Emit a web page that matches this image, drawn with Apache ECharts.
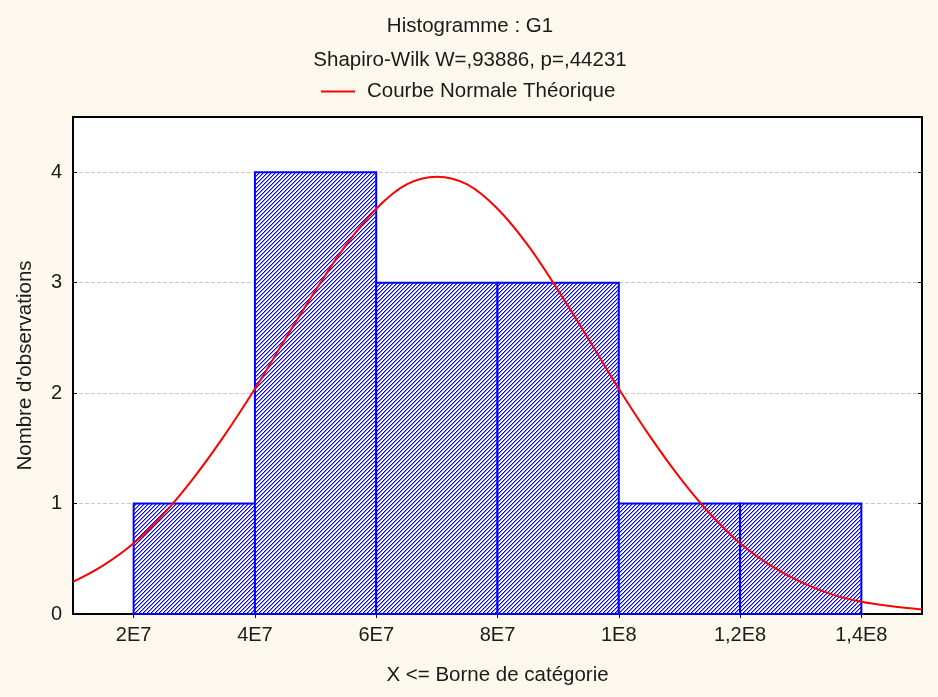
<!DOCTYPE html>
<html>
<head>
<meta charset="utf-8">
<script src="https://cdn.jsdelivr.net/npm/echarts@6/dist/echarts.min.js"></script>
<style>
  html, body { margin: 0; padding: 0; background: #fdf8ee; }
  #chart { width: 938px; height: 697px; }
</style>
</head>
<body>
<div id="chart"></div>
<script>
// classes de l'histogramme
const binStarts = [2e7, 4e7, 6e7, 8e7, 1e8, 1.2e8];
const binEnds   = [4e7, 6e7, 8e7, 1e8, 1.2e8, 1.4e8];
const counts    = [1, 4, 3, 3, 1, 1];

// courbe normale théorique
const curveX = [1e7, 1.5e7, 2e7, 2.5e7, 3e7, 3.5e7, 4e7, 4.5e7, 5e7, 5.5e7, 6e7, 6.5e7, 7e7, 7.5e7,
                8e7, 8.5e7, 9e7, 9.5e7, 1e8, 1.05e8, 1.1e8, 1.15e8, 1.2e8, 1.25e8, 1.3e8, 1.35e8, 1.4e8, 1.45e8, 1.5e8];
const curveY = [0.29, 0.44, 0.64, 0.91, 1.24, 1.62, 2.04, 2.49, 2.93, 3.34, 3.67, 3.89, 3.96, 3.89,
                3.67, 3.34, 2.93, 2.49, 2.04, 1.62, 1.24, 0.91, 0.64, 0.44, 0.29, 0.18, 0.11, 0.07, 0.04];

// graduations
const xTickValues = [2e7, 4e7, 6e7, 8e7, 1e8, 1.2e8, 1.4e8];
const xTickLabels = ['2E7', '4E7', '6E7', '8E7', '1E8', '1,2E8', '1,4E8'];
const yTickValues = [0, 1, 2, 3, 4];

// motif hachuré des barres (///), dessiné pixel par pixel
function hatch() {
    let n = 4;
    let c = document.createElement('canvas');
    c.width = n; c.height = n;
    let ctx = c.getContext('2d');
    ctx.fillStyle = '#ffffff';
    ctx.fillRect(0, 0, n, n);
    for (let i = 0; i < n; i++) {
        ctx.fillStyle = '#0000ff';
        ctx.fillRect(i, n - 1 - i, 1, 1);
        ctx.fillStyle = '#8c8cff';
        ctx.fillRect(i, (n - i) % n, 1, 1);
    }
    return c;
}

window.onload = function () {
    let chart = echarts.init(document.getElementById('chart'));
    let pattern = { image: hatch(), repeat: 'repeat' };

    let barData = [];
    for (let i = 0; i < counts.length; i++) {
        barData.push([binStarts[i], binEnds[i], counts[i]]);
    }
    let curveData = curveX.map(function (x, i) { return [x, curveY[i]]; });

    let font = 'Liberation Sans, Arial, sans-serif';
    let txt = { color: '#1a1a1a', fontFamily: font, fontSize: 20.5, fontWeight: 'normal' };

    let option = {
        backgroundColor: '#fdf8ee',
        animation: false,
        title: [
            { text: 'Histogramme : G1', left: 470, top: 16, padding: 0, textAlign: 'center', textStyle: txt },
            { text: 'Shapiro-Wilk W=,93886, p=,44231', left: 470, top: 50, padding: 0, textAlign: 'center', textStyle: txt }
        ],
        legend: {
            left: 321, top: 81, padding: 0,
            icon: 'rect',
            itemWidth: 34, itemHeight: 2, itemGap: 10,
            textStyle: Object.assign({}, txt, { padding: [0, 0, 0, 7] }),
            data: ['Courbe Normale Théorique']
        },
        grid: {
            left: 73, right: 16, top: 117, bottom: 83,
            show: true, backgroundColor: '#ffffff', borderColor: '#000', borderWidth: 2
        },
        xAxis: [
            {
                type: 'value', min: 1e7, max: 1.5e8, position: 'bottom',
                name: 'X <= Borne de catégorie', nameLocation: 'middle', nameGap: 51,
                nameTextStyle: txt,
                axisLine: { lineStyle: { color: '#000', width: 2 } },
                axisTick: { inside: true, length: 4, lineStyle: { color: '#000' }, customValues: xTickValues },
                axisLabel: {
                    color: '#1a1a1a', fontSize: 20, fontFamily: font, margin: 11,
                    customValues: xTickValues,
                    formatter: function (v) { return xTickLabels[xTickValues.indexOf(v)]; }
                },
                splitLine: { show: false }
            },
            {
                type: 'value', min: 1e7, max: 1.5e8, position: 'top',
                axisLine: { lineStyle: { color: '#000', width: 2 } },
                axisTick: { inside: true, length: 4, lineStyle: { color: '#000' }, customValues: xTickValues },
                axisLabel: { show: false },
                splitLine: { show: false }
            }
        ],
        yAxis: [
            {
                type: 'value', min: 0, max: 4.5, position: 'left',
                name: "Nombre d'observations", nameLocation: 'middle', nameGap: 37, nameRotate: 90,
                nameTextStyle: txt,
                axisLine: { show: true, lineStyle: { color: '#000', width: 2 } },
                axisTick: { show: true, inside: true, length: 4, lineStyle: { color: '#000' }, customValues: yTickValues },
                axisLabel: { color: '#1a1a1a', fontSize: 20, fontFamily: font, margin: 11, customValues: yTickValues },
                splitLine: { show: true, lineStyle: { color: '#c8c8c8', type: 'dashed', width: 1 } }
            },
            {
                type: 'value', min: 0, max: 4.5, position: 'right',
                axisLine: { show: true, lineStyle: { color: '#000', width: 2 } },
                axisTick: { show: true, inside: true, length: 4, lineStyle: { color: '#000' }, customValues: yTickValues },
                axisLabel: { show: false },
                splitLine: { show: false }
            }
        ],
        series: [
            {
                name: 'Histogramme',
                type: 'custom',
                data: barData,
                encode: { x: [0, 1], y: 2 },
                renderItem: function (params, api) {
                    let p0 = api.coord([api.value(0), 0]);
                    let p1 = api.coord([api.value(1), api.value(2)]);
                    return {
                        type: 'rect',
                        shape: { x: p0[0], y: p1[1], width: p1[0] - p0[0], height: p0[1] - p1[1] },
                        style: { fill: pattern, stroke: '#0000ff', lineWidth: 2 }
                    };
                },
                z: 2
            },
            {
                name: 'Courbe Normale Théorique',
                type: 'line',
                data: curveData,
                smooth: 0.35,
                symbol: 'none',
                lineStyle: { color: '#ff0000', width: 2 },
                itemStyle: { color: '#ff0000' },
                z: 3
            }
        ]
    };

    chart.setOption(option);
};
</script>
</body>
</html>
